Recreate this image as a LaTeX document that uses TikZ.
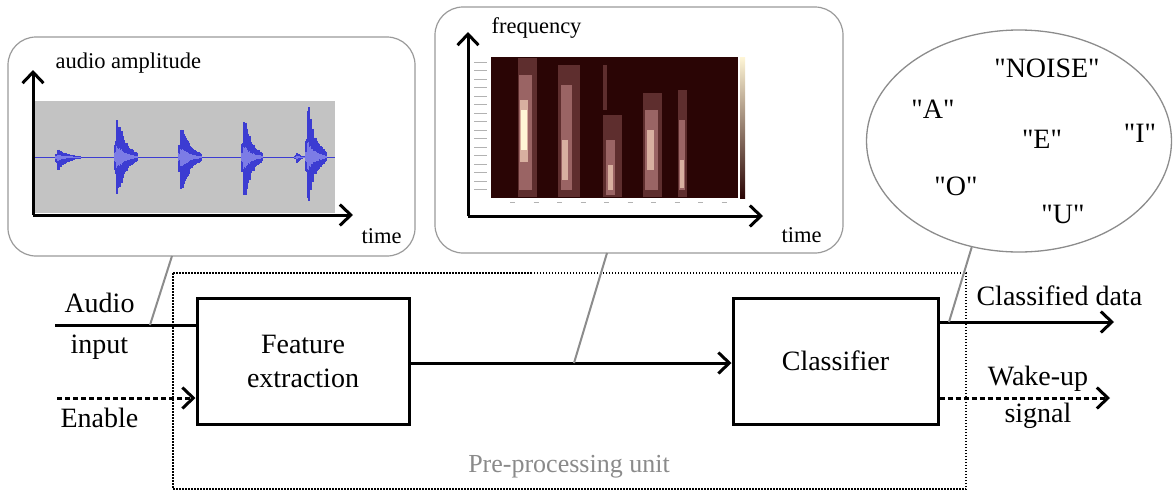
\documentclass[tikz,border=0pt]{standalone}
\usepackage{fontspec}
\setmainfont{Liberation Serif}
\usetikzlibrary{arrows.meta, shapes.geometric}
\definecolor{callgrey}{HTML}{9A9A9A}
\definecolor{pointgrey}{HTML}{8C8C8C}
\definecolor{unitgrey}{HTML}{8A8A8A}
\definecolor{wavebg}{HTML}{C3C3C3}
\definecolor{wavedark}{HTML}{3C3CD2}
\definecolor{wavelight}{HTML}{7C7CE6}
\definecolor{specbg}{HTML}{2A0505}
\definecolor{speclow}{HTML}{5E2E2E}
\definecolor{specmid}{HTML}{9A6464}
\definecolor{spechi}{HTML}{D8B0A0}
\definecolor{spectop}{HTML}{FFF6D6}
\newcommand{\procblock}[4]{%
  \node[draw, line width=3pt, minimum width=#3, minimum height=126pt,
        align=center] (#1) at (#2,361) {#4};}
\newcommand{\burst}[4]{%
  \foreach \i in {-2,...,#4}{%
    \pgfmathsetmacro{\env}{(\i<0 ? 0.35 : exp(-2.2*\i/#4))*(0.7+0.3*rnd)}
    \draw[wavedark, line width=1.1pt] (#1+\i,157-#2*\env) -- (#1+\i,157+#3*\env);
    \draw[wavelight, line width=1.1pt] (#1+\i,157-0.3*#2*\env) -- (#1+\i,157+0.3*#3*\env);}}
\newcommand{\vowel}[1]{\textquotedbl#1\textquotedbl}

\begin{document}
\begin{tikzpicture}[x=1pt, y=-1pt, font=\fontsize{28}{34}\selectfont,
    wire/.style={line width=3pt},
    tip/.style={-{Straight Barb[length=11pt, width=21pt]}},
    pointer/.style={pointgrey, line width=2pt},
    callout/.style={draw=callgrey, line width=1.2pt, rounded corners=28pt},
    small/.style={font=\fontsize{22.5}{26}\selectfont}]
  \useasboundingbox (0,0) rectangle (1176,491);
  \pgfmathsetseed{11}

  % pre-processing unit
  \draw[line width=1.5pt, black, dash pattern=on 1.5pt off 1.5pt]
    (173,273) rectangle (966,489);
  \node[text=unitgrey, font=\fontsize{26}{30}\selectfont, anchor=base]
    (unit) at (569,472) {Pre-processing unit};

  % audio amplitude callout
  \draw[callout] (8,37) rectangle (415,256);
  \fill[wavebg] (35,101) rectangle (335,213);
  \draw[wavedark, line width=0.8pt] (35,157) -- (335,157);
  \burst{58}{9}{16}{22}
  \burst{117}{47}{48}{20}
  \burst{181}{37}{43}{20}
  \burst{244}{45}{50}{18}
  \burst{297}{5}{8}{8}
  \burst{308}{57}{50}{18}
  \draw[wire, tip] (33,215) -- (33,70);
  \draw[wire, tip] (33,215) -- (353,215);
  \node[small, anchor=base west] (amp) at (52,68) {audio amplitude};
  \node[small, anchor=base west] (ampt) at (358,243) {time};

  % spectrogram callout
  \draw[callout] (435,7) rectangle (843,253);
  \fill[specbg] (491,57) rectangle (738,198);
  \shade[bottom color=specbg, top color=spectop] (740,57) rectangle (745,198);
  \foreach \xa/\ya/\xb/\yb/\c in {
      518/58/537/197/speclow, 519/75/532/190/specmid, 520/100/528/162/spechi,
      521/110/527/150/spectop,
      558/65/580/197/speclow, 561/85/572/190/specmid, 562/140/568/180/spechi,
      603/65/607/110/speclow, 603/115/622/197/speclow, 606/140/615/195/specmid,
      608/165/613/190/spechi,
      643/93/662/197/speclow, 645/110/658/190/specmid, 647/130/654/170/spechi,
      678/90/687/197/speclow, 679/120/685/190/specmid, 680/160/684/188/spechi}
    \fill[\c] (\xa,\ya) rectangle (\xb,\yb);
  \foreach \k in {0,...,15}
    \draw[black!30, line width=1pt] (474,62+8.5*\k) -- (487,62+8.5*\k);
  \foreach \k in {0,...,9}
    \draw[black!30, line width=1pt] (510+23.5*\k,202) -- (515+23.5*\k,202);
  \draw[wire, tip] (468,216) -- (468,32);
  \draw[wire, tip] (468,216) -- (763,216);
  \node[small, anchor=base west] (freq) at (488,33) {frequency};
  \node[small, anchor=base west] (spect) at (778,242) {time};

  % classes
  \node[ellipse, draw=pointgrey, line width=1.3pt, minimum width=305pt,
        minimum height=222pt] (classes) at (1019,141) {};
  \node[anchor=base] (noise) at (1047,77) {\vowel{NOISE}};
  \node[anchor=base] (va) at (933,118) {\vowel{A}};
  \node[anchor=base] (ve) at (1042,148) {\vowel{E}};
  \node[anchor=base] (vi) at (1140,142) {\vowel{I}};
  \node[anchor=base] (vo) at (956,195) {\vowel{O}};
  \node[anchor=base] (vu) at (1063,223) {\vowel{U}};

  % blocks
  \procblock{feat}{303}{212pt}{Feature\\extraction}
  \procblock{cls}{835.5}{205pt}{Classifier}

  % signals
  \coordinate (ain) at (55,325);
  \coordinate (en) at (57,398);
  \coordinate (cout) at (1114,322);
  \coordinate (wout) at (1110,398);
  \draw[wire] (ain) -- (ain -| feat.west);
  \draw[wire, tip, dash pattern=on 5pt off 3pt] (en) -- (en -| feat.west);
  \draw[wire, tip] (feat.east |- 0,363) -- (cls.west |- 0,363);
  \draw[wire, tip] (cout -| cls.east) -- (cout);
  \draw[wire, tip, dash pattern=on 5pt off 3pt] (wout -| cls.east) -- (wout);
  \node[anchor=base west] (audio) at (61,312) {Audio};
  \node[anchor=base west] (input) at (67,353) {input};
  \node[anchor=base west] (enable) at (57,427) {Enable};
  \node[anchor=base west] (cdata) at (973,305) {Classified data};
  \node[anchor=base] (wake) at (1038,385) {Wake-up};
  \node[anchor=base] (signal) at (1038,422) {signal};

  % pointers
  \coordinate (ampfoot) at (172,256);
  \coordinate (ampjoin) at (150,325);
  \coordinate (specfoot) at (607,253);
  \coordinate (specjoin) at (574,363);
  \coordinate (clsjoin) at (949,322);
  \draw[pointer] (ampfoot) -- (ampjoin);
  \draw[pointer] (specfoot) -- (specjoin);
  \draw[pointer] (classes.246) -- (clsjoin);
\end{tikzpicture}
\end{document}
